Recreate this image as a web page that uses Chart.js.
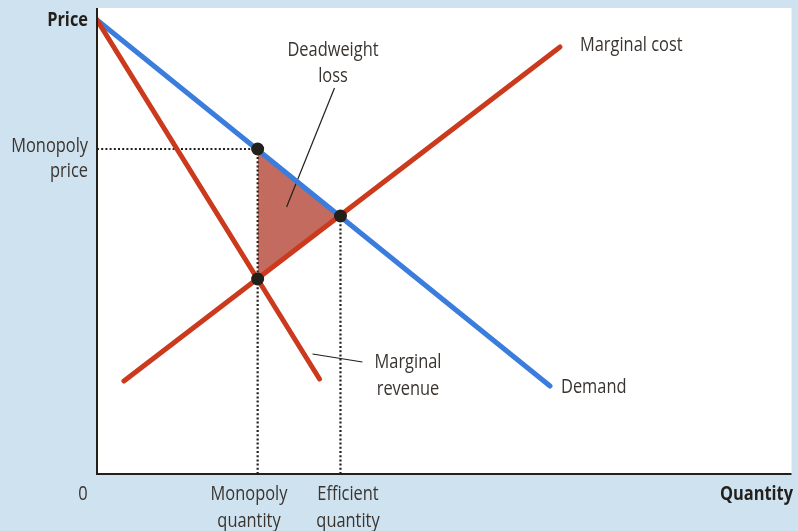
<!DOCTYPE html>
<html>
<head>
<meta charset="utf-8">
<script src="https://cdn.jsdelivr.net/npm/chart.js@4.4.1/dist/chart.umd.min.js"></script>
<style>
  html, body { margin: 0; padding: 0; background: #cfe2f0; }
  #wrap { width: 798px; height: 531px; position: relative; }
</style>
</head>
<body>
<div id="wrap"><canvas id="monopolyChart"></canvas></div>
<script>
// curves in plot units (quantity, price)
const demand = [{ x: 0, y: 454 }, { x: 454, y: 88 }];
const marginalRevenue = [{ x: 0, y: 454 }, { x: 223, y: 95 }];
const marginalCost = [{ x: 27, y: 93 }, { x: 464, y: 427 }];

// key points: monopoly (on demand), efficient, monopoly on MC/MR
const keyPoints = [{ x: 161, y: 325 }, { x: 244, y: 258 }, { x: 161, y: 195 }];

// deadweight loss triangle edges
const dwlTop = [{ x: 161, y: 325 }, { x: 244, y: 258 }];
const dwlBottom = [{ x: 161, y: 195 }, { x: 244, y: 258 }];

// dotted guides
const guidePrice = [{ x: 0, y: 325 }, { x: 161, y: 325 }];
const guideMonoQ = [{ x: 161, y: 0 }, { x: 161, y: 325 }];
const guideEffQ = [{ x: 244, y: 0 }, { x: 244, y: 258 }];

// label pointer lines
const dwlPointer = [{ x: 238, y: 386 }, { x: 190, y: 267 }];
const mrPointer = [{ x: 216, y: 120 }, { x: 266, y: 112 }];

const BLUE = '#3a7ddd';
const RED = '#cc3a1e';
const INK = '#231f1a';
const TEXT = '#3a3430';
const FONT = '"Open Sans", sans-serif';
const SQUEEZE = 0.82; // reference uses a condensed face

function label(ctx, str, x, y, align) {
  ctx.save();
  ctx.translate(x, y);
  ctx.scale(SQUEEZE, 1);
  ctx.textAlign = align;
  ctx.fillText(str, 0, 0);
  ctx.restore();
}

const backdrop = {
  id: 'backdrop',
  beforeDraw(chart) {
    const { ctx, chartArea: a } = chart;
    ctx.save();
    ctx.fillStyle = '#cfe2f0';
    ctx.fillRect(0, 0, chart.width, chart.height);
    ctx.fillStyle = '#ffffff';
    ctx.fillRect(a.left, a.top, a.right - a.left, a.bottom - a.top);
    ctx.restore();
  },
  afterDraw(chart) {
    const { ctx, chartArea: a } = chart;
    ctx.save();
    // axes
    ctx.strokeStyle = INK;
    ctx.lineWidth = 2;
    ctx.beginPath();
    ctx.moveTo(a.left, a.top);
    ctx.lineTo(a.left, a.bottom);
    ctx.lineTo(a.right, a.bottom);
    ctx.stroke();

    ctx.textBaseline = 'middle';
    ctx.fillStyle = INK;
    ctx.font = 'bold 20px ' + FONT;
    label(ctx, 'Price', 88, 20, 'right');
    label(ctx, 'Quantity', 793, 494, 'right');

    ctx.fillStyle = TEXT;
    ctx.font = '20px ' + FONT;
    label(ctx, 'Monopoly', 88, 146, 'right');
    label(ctx, 'price', 88, 171, 'right');

    label(ctx, '0', 83, 494, 'center');
    label(ctx, 'Monopoly', 249, 494, 'center');
    label(ctx, 'quantity', 249, 521, 'center');
    label(ctx, 'Efficient', 348, 494, 'center');
    label(ctx, 'quantity', 348, 521, 'center');
    label(ctx, 'Deadweight', 333, 50, 'center');
    label(ctx, 'loss', 333, 76, 'center');
    label(ctx, 'Marginal', 408, 362, 'center');
    label(ctx, 'revenue', 408, 389, 'center');

    label(ctx, 'Marginal cost', 580, 45, 'left');
    label(ctx, 'Demand', 561, 387, 'left');
    ctx.restore();
  }
};

const ctx = document.getElementById('monopolyChart').getContext('2d');

const curve = (data, color, order) => ({
  data, showLine: true, borderColor: color, borderWidth: 5,
  borderCapStyle: 'round', pointRadius: 0, order
});
const dotted = (data) => ({
  data, showLine: true, borderColor: INK, borderWidth: 2.2,
  borderDash: [2, 2.2], pointRadius: 0, order: 3
});
const pointer = (data) => ({
  data, showLine: true, borderColor: INK, borderWidth: 1.2,
  pointRadius: 0, order: 2
});

const chart = new Chart(ctx, {
  type: 'scatter',
  data: {
    datasets: [
      // 0: triangle top edge, filled down to dataset 1
      { data: dwlTop, showLine: true, borderWidth: 0, pointRadius: 0,
        backgroundColor: '#c26b5e', fill: { target: 1 }, order: 4 },
      { data: dwlBottom, showLine: true, borderWidth: 0, pointRadius: 0, order: 4 },
      dotted(guidePrice),
      dotted(guideMonoQ),
      dotted(guideEffQ),
      pointer(dwlPointer),
      pointer(mrPointer),
      curve(marginalRevenue, RED, 1),
      curve(marginalCost, RED, 1),
      curve(demand, BLUE, 1),
      { data: keyPoints, showLine: false, pointRadius: 6.5, pointBorderWidth: 0,
        pointBackgroundColor: INK, pointHoverRadius: 6.5, order: 0 }
    ]
  },
  options: {
    responsive: true,
    maintainAspectRatio: false,
    animation: false,
    layout: { padding: { left: 97, right: 5, top: 8, bottom: 57 } },
    plugins: { legend: { display: false }, tooltip: { enabled: false } },
    scales: {
      x: { type: 'linear', min: 0, max: 696, display: false },
      y: { type: 'linear', min: 0, max: 466, display: false }
    }
  },
  plugins: [backdrop]
});
</script>
</body>
</html>
